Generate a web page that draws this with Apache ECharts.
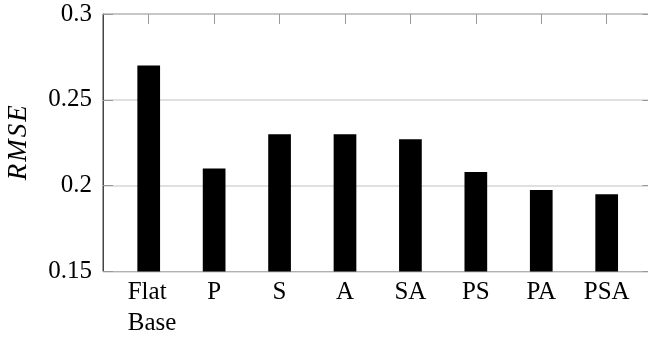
<!DOCTYPE html>
<html>
<head>
<meta charset="utf-8">
<script src="https://cdn.jsdelivr.net/npm/echarts@6/dist/echarts.min.js"></script>
<style>html,body{margin:0;padding:0;background:#fff}#c{width:648px;height:339px}</style>
</head>
<body>
<div id="c"></div>
<script>
const categories = ['Flat\nBase', 'P', 'S', 'A', 'SA', 'PS', 'PA', 'PSA'];
const rmse = [0.27, 0.21, 0.23, 0.23, 0.227, 0.208, 0.1975, 0.195];
const yMin = 0.15, yMax = 0.3, yStep = 0.05;
const yNameLetters = ['R', 'M', 'S', 'E'];

const FONT = '"Liberation Serif", "DejaVu Serif", serif';
const chart = echarts.init(document.getElementById('c'), null, {renderer: 'canvas'});
const gridTop = 14, gridH = 257.5;
chart.setOption({
  animation: false,
  grid: [
    {left: 103, width: 549.4, top: gridTop, height: gridH, show: true, borderColor: '#444', borderWidth: 1,
      backgroundColor: 'transparent', containLabel: false, outerBoundsMode: 'none'},
    {left: 116, width: 523.4, top: gridTop, height: gridH, containLabel: false, outerBoundsMode: 'none'}
  ],
  xAxis: [
    {gridIndex: 0, type: 'value', min: 0, max: 1, show: false},
    {gridIndex: 1, type: 'category', data: categories, position: 'bottom',
      axisLine: {show: false}, axisTick: {show: false},
      axisLabel: {
        interval: 0, margin: 5, color: '#000', fontFamily: FONT, fontSize: 25, lineHeight: 31,
        formatter: function (v) {
          if (v.indexOf('\n') >= 0) {
            return v.split('\n').map(p => '{l|' + p + '}').join('\n');
          }
          return v;
        },
        rich: {l: {width: 50, align: 'left', padding: [0, 0, 0, 8], fontFamily: FONT, fontSize: 25, lineHeight: 31, color: '#000'}}
      }
    },
    {gridIndex: 1, type: 'category', data: categories, position: 'top',
      axisLine: {show: false}, axisLabel: {show: false},
      axisTick: {show: true, inside: true, alignWithLabel: true, length: 10, lineStyle: {color: '#999', width: 1}}
    }
  ],
  yAxis: [
    {gridIndex: 0, type: 'value', min: yMin, max: yMax, interval: yStep, position: 'left',
      name: yNameLetters.map(c => '{r|' + c + '}').join(''), nameLocation: 'middle', nameGap: 71,
      nameTextStyle: {fontFamily: FONT, fontStyle: 'italic', fontSize: 27, color: '#000',
        rich: {r: {fontFamily: FONT, fontStyle: 'italic', fontSize: 27, color: '#000', padding: [0, 1, 0, 1]}}},
      axisLine: {show: true, lineStyle: {color: '#444', width: 1}},
      axisTick: {show: true, inside: true, length: 10, lineStyle: {color: '#999'}},
      axisLabel: {margin: 11, color: '#000', fontFamily: FONT, fontSize: 25},
      splitLine: {show: true, lineStyle: {color: '#d6d6d6', width: 1.5}}
    },
    {gridIndex: 0, type: 'value', min: yMin, max: yMax, interval: yStep, position: 'right',
      axisLine: {show: false}, axisLabel: {show: false}, splitLine: {show: false},
      axisTick: {show: true, inside: true, length: 10, lineStyle: {color: '#999'}}
    },
    {gridIndex: 1, type: 'value', min: yMin, max: yMax, show: false, splitLine: {show: false}}
  ],
  series: [{
    type: 'bar', xAxisIndex: 1, yAxisIndex: 2, data: rmse, barWidth: 22.7,
    itemStyle: {color: '#000'}, clip: true
  }]
});
</script>
</body>
</html>
